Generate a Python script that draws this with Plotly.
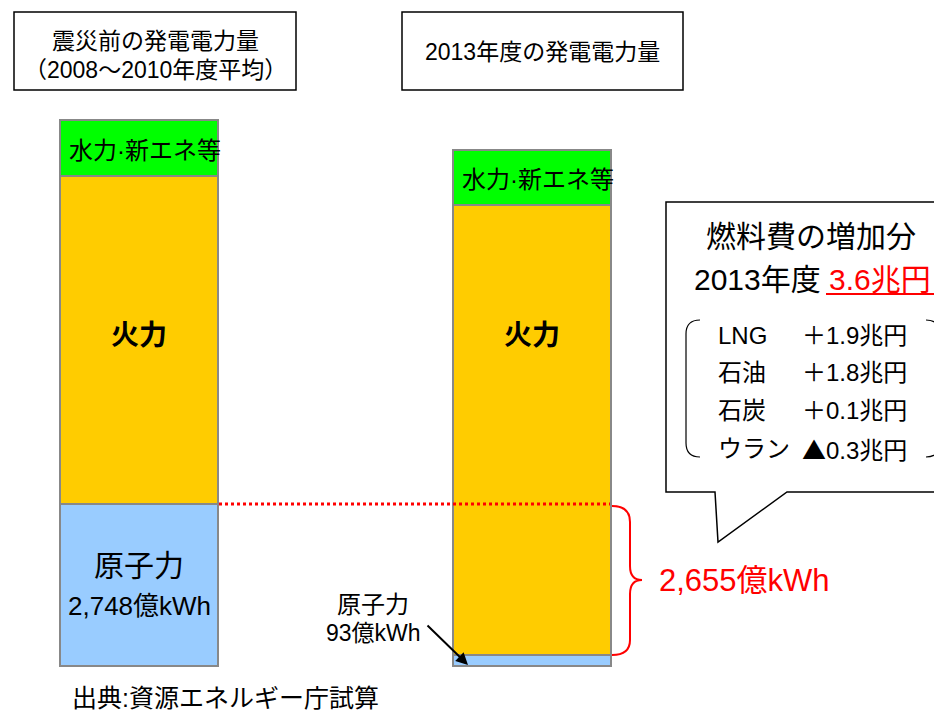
import plotly.graph_objects as go

W, H = 942, 712

# 億kWh
periods = ["震災前", "2013年度"]
nuclear = [2748, 185]
thermal = [5565, 7635]
hydro_new = [950, 935]
bar_x = [139, 532]

fuel_items = ["LNG", "石油", "石炭", "ウラン"]
fuel_costs = ["＋1.9兆円", "＋1.8兆円", "＋0.1兆円",
              "<span style='font-family:Noto Sans CJK JP'>▲</span>0.3兆円"]

FONT = "Liberation Sans, Noto Sans CJK JP, sans-serif"
k = nuclear[0] / 162.0  # value per pixel
OFF = 8  # page body margin


def px(x):
    return (x - OFF) / W


def py(y):
    return 1 - (y - OFF) / H


fig = go.Figure()
bar_line = dict(color="#888888", width=2.5)
for name, vals, col in [("原子力", nuclear, "#99CCFF"),
                        ("火力", thermal, "#FFCC00"),
                        ("水力·新エネ等", hydro_new, "#00FF00")]:
    fig.add_trace(go.Bar(x=[b - OFF for b in bar_x], y=vals, width=158, name=name,
                         marker=dict(color=col, line=bar_line), hoverinfo="skip"))

shapes = []
# title boxes
shapes.append(dict(type="rect", xref="paper", yref="paper", x0=px(14), x1=px(296), y0=py(12), y1=py(90),
                   line=dict(color="black", width=1.5)))
shapes.append(dict(type="rect", xref="paper", yref="paper", x0=px(402), x1=px(683), y0=py(12), y1=py(90),
                   line=dict(color="black", width=1.5)))

# dotted line at the nuclear level
shapes.append(dict(type="line", xref="paper", yref="y", x0=px(219), x1=px(610), y0=nuclear[0], y1=nuclear[0],
                   line=dict(color="red", width=3, dash="dot")))


def path(pts):
    out = []
    for p in pts:
        if isinstance(p, str):
            out.append(p)
        else:
            out.append("%.5f,%.5f" % (px(p[0]), py(p[1])))
    return " ".join(out)


# brace
brace = path(["M", (612, 506), "Q", (630, 506), (630, 522), "L", (630, 566), "Q", (630, 580), (642, 580),
              "Q", (630, 580), (630, 594), "L", (630, 640), "Q", (630, 655), (612, 655)])
shapes.append(dict(type="path", xref="paper", yref="paper", path=brace, line=dict(color="red", width=2)))

# callout
callout = path(["M", (666, 202), "L", (960, 202), "L", (960, 492), "L", (787, 492), "L", (718, 542),
                "L", (715, 492), "L", (666, 492), "Z"])
shapes.append(dict(type="path", xref="paper", yref="paper", path=callout, fillcolor="white",
                   line=dict(color="black", width=1.5)))

# brackets around the list
lb = path(["M", (700, 320), "Q", (686, 320), (686, 334), "L", (686, 443), "Q", (686, 457), (700, 457)])
rb = path(["M", (926, 320), "Q", (940, 320), (940, 334), "L", (940, 443), "Q", (940, 457), (926, 457)])
for p in (lb, rb):
    shapes.append(dict(type="path", xref="paper", yref="paper", path=p, line=dict(color="black", width=1.2)))

# underline of the total
shapes.append(dict(type="line", xref="paper", yref="paper", x0=px(826), x1=px(935), y0=py(294), y1=py(294),
                   line=dict(color="red", width=2)))

ann = []


def txt(x, y, s, size, color="black", anchor="center"):
    ann.append(dict(x=px(x), y=py(y), xref="paper", yref="paper", text=s, showarrow=False,
                    xanchor=anchor, yanchor="middle", font=dict(size=size, color=color, family=FONT)))


txt(155, 41, "震災前の発電電力量", 23)
txt(155, 70, "（2008～2010年度平均）", 23)
txt(542, 52, "2013年度の発電電力量", 23)

for i, xc in enumerate(bar_x):
    txt(xc + 6, 150 if i == 0 else 179, "水力·新エネ等", 24)
    txt(xc, 335, "<b>火力</b>", 28)
txt(139, 565, "原子力", 30)
txt(139, 606, "2,748億kWh", 26)

txt(373, 604, "原子力", 24)
txt(373, 633, "93億kWh", 23)
ann.append(dict(x=px(468), y=py(665), xref="paper", yref="paper", ax=-42, ay=-41, axref="pixel", ayref="pixel",
                text="", showarrow=True, arrowhead=2, arrowsize=1.2, arrowwidth=2, arrowcolor="black"))

txt(657, 580, "2,655億kWh", 31, color="red", anchor="left")

txt(811, 237, "燃料費の増加分", 30)
txt(812, 279, "2013年度 <span style='color:red'>3.6兆円</span>", 30)
for i, (a, b) in enumerate(zip(fuel_items, fuel_costs)):
    y = 335 + i * 37.7
    txt(716, y, a, 24, anchor="left")
    txt(800, y, b, 24, anchor="left")

txt(70, 698, "出典:資源エネルギー庁試算", 25, anchor="left")

fig.update_layout(
    width=W, height=H, margin=dict(l=0, r=0, t=0, b=0),
    barmode="stack", showlegend=False,
    paper_bgcolor="white", plot_bgcolor="white",
    xaxis=dict(range=[0, W], visible=False, fixedrange=True),
    yaxis=dict(range=[-(H + OFF - 666) * k, (666 - OFF) * k], visible=False, fixedrange=True),
    shapes=shapes, annotations=ann,
)

fig.write_html("out.html")
